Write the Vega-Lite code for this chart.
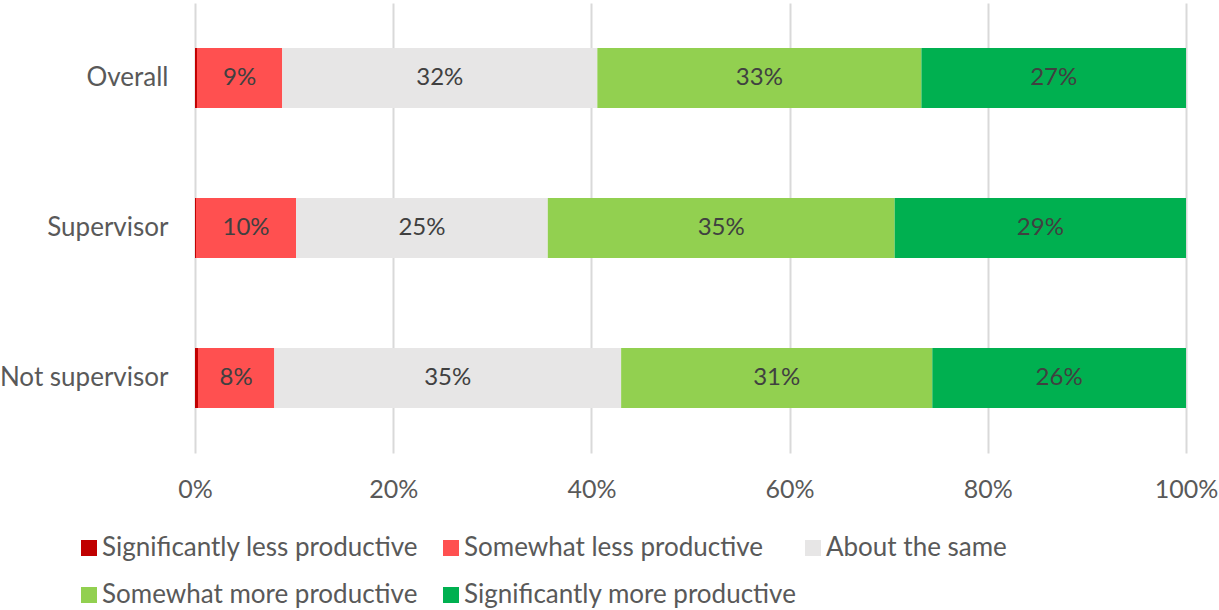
{
  "$schema": "https://vega.github.io/schema/vega-lite/v6.json",
  "autosize": "none",
  "padding": {"left": 195, "top": 3, "right": 33, "bottom": 157},
  "width": 991,
  "height": 450,
  "background": "white",
  "config": {
    "view": {"stroke": null},
    "font": "Lato",
    "text": {"font": "Lato"}
  },
  "data": {
    "values": [
      {"group": "Overall", "category": "Significantly less productive", "value": 0.002, "ord": 1},
      {"group": "Overall", "category": "Somewhat less productive", "value": 0.086, "ord": 2},
      {"group": "Overall", "category": "About the same", "value": 0.318, "ord": 3},
      {"group": "Overall", "category": "Somewhat more productive", "value": 0.327, "ord": 4},
      {"group": "Overall", "category": "Significantly more productive", "value": 0.267, "ord": 5},
      {"group": "Supervisor", "category": "Significantly less productive", "value": 0.001, "ord": 1},
      {"group": "Supervisor", "category": "Somewhat less productive", "value": 0.101, "ord": 2},
      {"group": "Supervisor", "category": "About the same", "value": 0.254, "ord": 3},
      {"group": "Supervisor", "category": "Somewhat more productive", "value": 0.350, "ord": 4},
      {"group": "Supervisor", "category": "Significantly more productive", "value": 0.294, "ord": 5},
      {"group": "Not supervisor", "category": "Significantly less productive", "value": 0.003, "ord": 1},
      {"group": "Not supervisor", "category": "Somewhat less productive", "value": 0.077, "ord": 2},
      {"group": "Not supervisor", "category": "About the same", "value": 0.350, "ord": 3},
      {"group": "Not supervisor", "category": "Somewhat more productive", "value": 0.314, "ord": 4},
      {"group": "Not supervisor", "category": "Significantly more productive", "value": 0.256, "ord": 5}
    ]
  },
  "encoding": {
    "y": {
      "field": "group",
      "type": "nominal",
      "sort": ["Overall", "Supervisor", "Not supervisor"],
      "scale": {"paddingInner": 0.6, "paddingOuter": 0.3},
      "axis": {
        "title": null,
        "domain": false,
        "ticks": false,
        "labelFontSize": 26,
        "labelColor": "#595959",
        "labelPadding": 27,
        "labelFont": "Lato"
      }
    },
    "x": {
      "field": "value",
      "type": "quantitative",
      "stack": "zero",
      "scale": {"domain": [0, 1], "nice": false},
      "axis": {
        "title": null,
        "format": ".0%",
        "values": [0, 0.2, 0.4, 0.6, 0.8, 1],
        "domain": false,
        "ticks": false,
        "grid": true,
        "gridColor": "#D9D9D9",
        "gridWidth": 2,
        "labelFlush": false,
        "labelFontSize": 25,
        "labelColor": "#595959",
        "labelPadding": 24,
        "labelFont": "Lato"
      }
    },
    "order": {"field": "ord", "type": "quantitative"}
  },
  "layer": [
    {
      "mark": {"type": "bar"},
      "encoding": {
        "color": {
          "field": "category",
          "type": "nominal",
          "sort": ["Significantly less productive", "Somewhat less productive", "About the same", "Somewhat more productive", "Significantly more productive"],
          "scale": {
            "domain": ["Significantly less productive", "Somewhat less productive", "About the same", "Somewhat more productive", "Significantly more productive"],
            "range": ["#C00000", "#FF5050", "#E7E6E6", "#92D050", "#00B050"]
          },
          "legend": {
            "title": null,
            "orient": "none",
            "legendX": -119,
            "legendY": 532,
            "direction": "horizontal",
            "columns": 3,
            "gridAlign": "all",
            "symbolType": "square",
            "symbolSize": 256,
            "symbolStrokeWidth": 0,
            "symbolOpacity": 1,
            "labelFontSize": 26,
            "labelColor": "#595959",
            "labelFont": "Lato",
            "labelLimit": 450,
            "labelOffset": 0,
            "columnPadding": 3,
            "rowPadding": 21
          }
        }
      }
    },
    {
      "mark": {"type": "text", "fontSize": 24, "color": "#404040", "font": "Lato"},
      "encoding": {
        "x": {"field": "value", "type": "quantitative", "stack": "zero", "bandPosition": 0.5},
        "text": {
          "condition": {"test": "datum.category === 'Significantly less productive'", "value": ""},
          "field": "value",
          "type": "quantitative",
          "format": ".0%"
        }
      }
    }
  ]
}
